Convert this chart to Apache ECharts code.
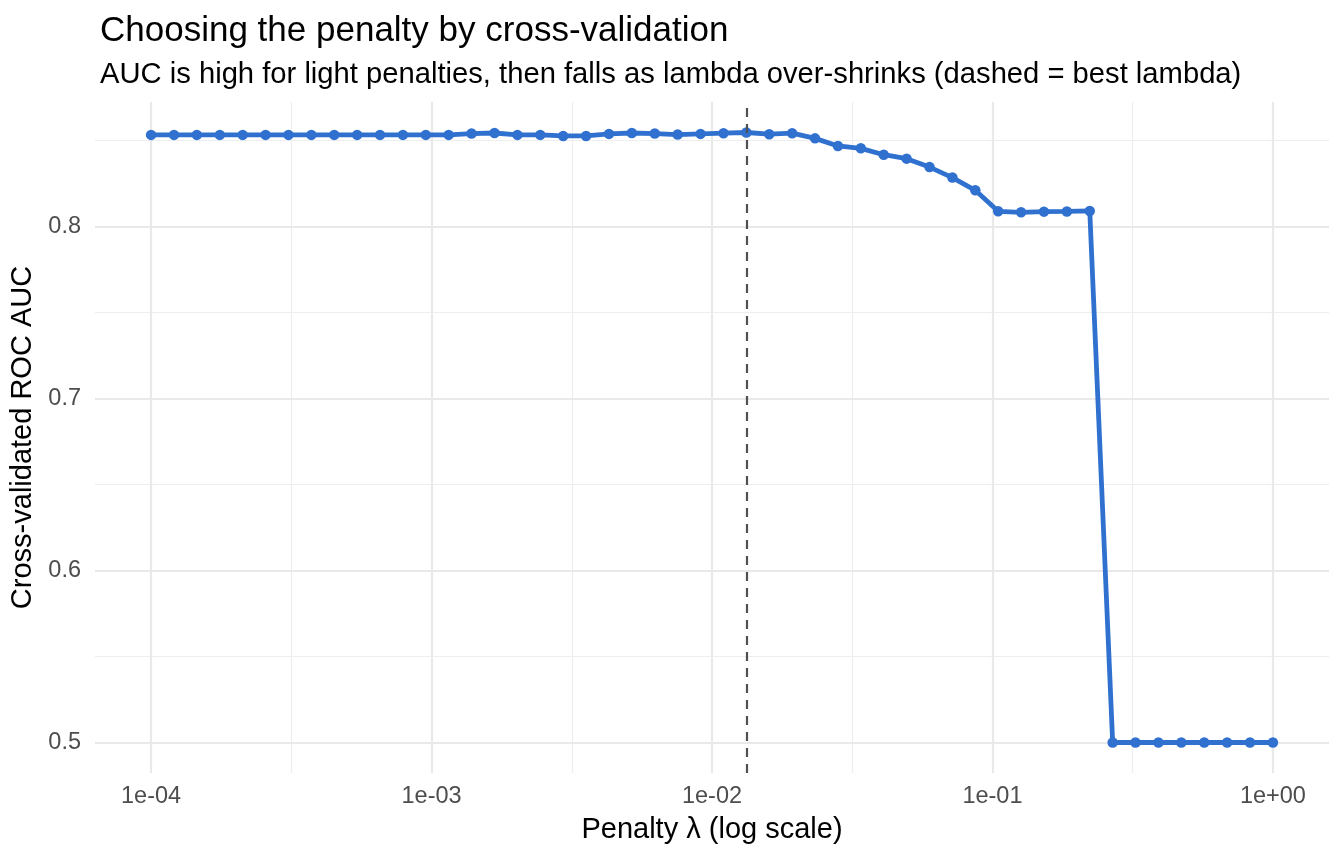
<!DOCTYPE html>
<html>
<head>
<meta charset="utf-8">
<script src="https://cdn.jsdelivr.net/npm/echarts@6/dist/echarts.min.js"></script>
<style>
html,body{margin:0;padding:0;background:#ffffff;}
#chart{width:1344px;height:864px;}
</style>
</head>
<body>
<div id="chart"></div>
<script>
// ---- data ----
const lambdas = [
  1.000e-4, 1.207e-4, 1.456e-4, 1.758e-4, 2.121e-4, 2.560e-4, 3.089e-4, 3.728e-4, 4.498e-4, 5.429e-4,
  6.551e-4, 7.906e-4, 9.541e-4, 1.151e-3, 1.389e-3, 1.677e-3, 2.024e-3, 2.442e-3, 2.947e-3, 3.556e-3,
  4.292e-3, 5.179e-3, 6.251e-3, 7.543e-3, 9.103e-3, 1.099e-2, 1.326e-2, 1.600e-2, 1.931e-2, 2.330e-2,
  2.812e-2, 3.393e-2, 4.095e-2, 4.942e-2, 5.964e-2, 7.197e-2, 8.685e-2, 0.1048, 0.1265, 0.1526,
  0.1842, 0.2223, 0.2683, 0.3237, 0.3907, 0.4715, 0.5690, 0.6866, 0.8286, 1.000
];
const aucValues = [
  0.8532, 0.8532, 0.8532, 0.8532, 0.8532, 0.8532, 0.8532, 0.8532, 0.8532, 0.8532,
  0.8532, 0.8532, 0.8532, 0.8532, 0.8540, 0.8543, 0.8532, 0.8532, 0.8526, 0.8526,
  0.8538, 0.8543, 0.8540, 0.8534, 0.8538, 0.8542, 0.8546, 0.8536, 0.8542, 0.8512,
  0.8468, 0.8454, 0.8417, 0.8394, 0.8345, 0.8284, 0.8210, 0.8088, 0.8082, 0.8086,
  0.8087, 0.8090, 0.5000, 0.5000, 0.5000, 0.5000, 0.5000, 0.5000, 0.5000, 0.5000
];
const bestLambda = 0.01326;
const xMajorBreaks = [1e-4, 1e-3, 1e-2, 1e-1, 1];
const xMinorBreaks = [3.1623e-4, 3.1623e-3, 3.1623e-2, 3.1623e-1];
const yMajorBreaks = [0.5, 0.6, 0.7, 0.8];
const yMinorBreaks = [0.55, 0.65, 0.75, 0.85];
const titleText = 'Choosing the penalty by cross-validation';
const subtitleText = 'AUC is high for light penalties, then falls as lambda over-shrinks (dashed = best lambda)';
const xTitle = 'Penalty \u03bb (log scale)';
const yTitle = 'Cross-validated ROC AUC';

// ---- log10 transform of the x scale (as ggplot's scale_x_log10) ----
const log10 = v => Math.log10(v);
const lx = lambdas.map(log10);
const lxMin = Math.min(...lx), lxMax = Math.max(...lx);
const xPad = (lxMax - lxMin) * 0.05;
const xMin = lxMin - xPad, xMax = lxMax + xPad;
const yLo = Math.min(...aucValues), yHi = Math.max(...aucValues);
const yPad = (yHi - yLo) * 0.05;
const yMin = yLo - yPad, yMax = yHi + yPad;

const FONT = "'Liberation Sans', Arial, Helvetica, sans-serif";
const GRID_COLOR = '#e9e9e9';

function gridLine(axisKey, v, width, color) {
  return { [axisKey]: v, lineStyle: { color: color, width: width, type: 'solid' } };
}
const gridData = []
  .concat(xMinorBreaks.map(v => gridLine('xAxis', log10(v), 1.2, '#eeeeee')))
  .concat(yMinorBreaks.map(v => gridLine('yAxis', v, 1.2, '#eeeeee')))
  .concat(xMajorBreaks.map(v => gridLine('xAxis', log10(v), 2.2, GRID_COLOR)))
  .concat(yMajorBreaks.map(v => gridLine('yAxis', v, 2.2, GRID_COLOR)));

const chart = echarts.init(document.getElementById('chart'), null, { renderer: 'canvas' });
chart.setOption({
  animation: false,
  backgroundColor: '#ffffff',
  textStyle: { fontFamily: FONT },
  title: [
    { text: titleText, left: 95, top: 9,
      textStyle: { fontFamily: FONT, fontSize: 35, fontWeight: 'normal', color: '#000000' } },
    { text: subtitleText, left: 95, top: 55,
      textStyle: { fontFamily: FONT, fontSize: 29.2, fontWeight: 'normal', color: '#000000' } }
  ],
  grid: { left: 95, right: 15, top: 102, bottom: 91, containLabel: false },
  xAxis: {
    type: 'value', min: xMin, max: xMax,
    name: xTitle, nameLocation: 'middle', nameGap: 42,
    nameTextStyle: { fontFamily: FONT, fontSize: 29, color: '#000000' },
    axisLine: { show: false }, axisTick: { show: false },
    splitLine: { show: false },
    axisLabel: {
      margin: 12, fontFamily: FONT, fontSize: 23.5, color: '#4d4d4d',
      formatter: function (v) {
        const r = Math.round(v);
        if (Math.abs(v - r) > 1e-6) return '';
        return '1e' + (r < 0 ? '-' : '+') + String(Math.abs(r)).padStart(2, '0');
      }
    }
  },
  yAxis: {
    type: 'value', min: yMin, max: yMax,
    name: yTitle, nameLocation: 'middle', nameGap: 51,
    nameTextStyle: { fontFamily: FONT, fontSize: 29, color: '#000000' },
    axisLine: { show: false }, axisTick: { show: false },
    splitLine: { show: false },
    axisLabel: {
      margin: 14, fontFamily: FONT, fontSize: 23.5, color: '#4d4d4d',
      formatter: function (v) {
        if (Math.abs(v * 10 - Math.round(v * 10)) > 1e-6) return '';
        return v.toFixed(1);
      }
    }
  },
  series: [
    {
      name: 'grid', type: 'line', data: [], silent: true, z: 0,
      markLine: { silent: true, z: 1, symbol: ['none', 'none'], animation: false, precision: 6,
        label: { show: false }, emphasis: { disabled: true }, data: gridData }
    },
    {
      name: 'AUC', type: 'line', z: 3,
      data: lambdas.map((l, i) => [log10(l), aucValues[i]]),
      showSymbol: true, symbol: 'circle', symbolSize: 10.5,
      lineStyle: { color: '#3071d0', width: 4.8 },
      itemStyle: { color: '#3071d0' },
      emphasis: { disabled: true },
      markLine: { silent: true, z: 6, symbol: ['none', 'none'], animation: false, precision: 6,
        label: { show: false }, emphasis: { disabled: true },
        data: [{ xAxis: log10(bestLambda), lineStyle: { color: '#505050', width: 2.2, type: [9, 7] } }] }
    }
  ]
});
</script>
</body>
</html>
